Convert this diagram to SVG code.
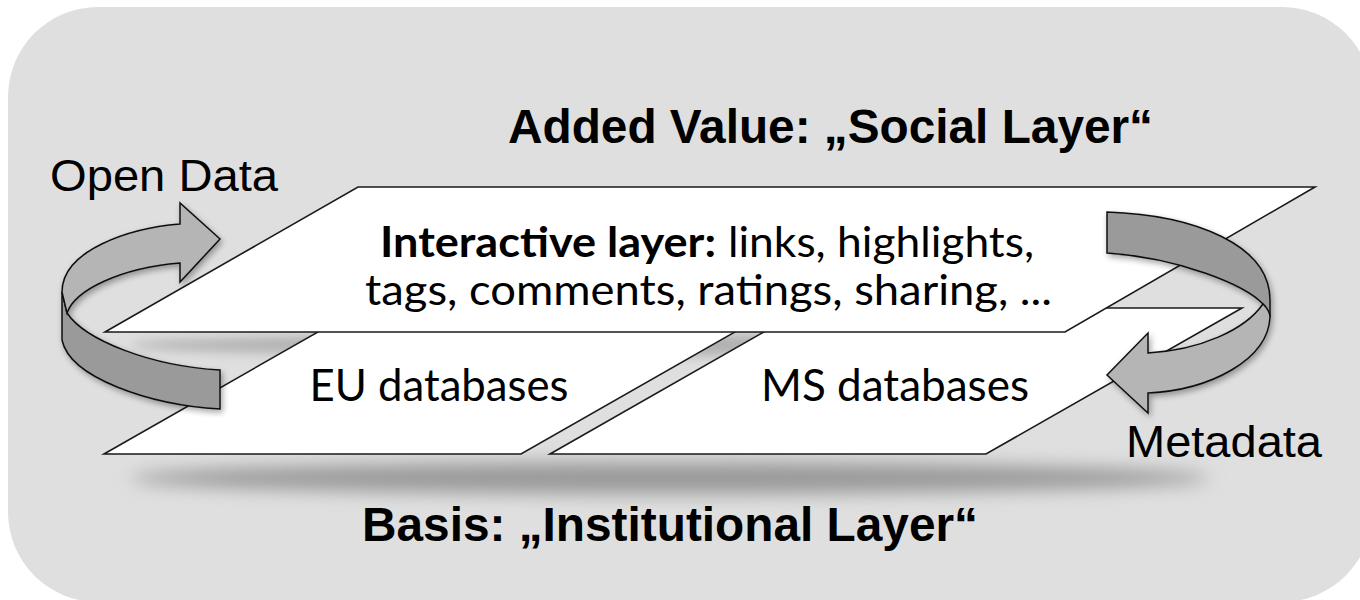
<svg xmlns="http://www.w3.org/2000/svg" width="1360" height="600" viewBox="0 0 1360 600">
<style>
.plane{fill:#ffffff;stroke:#1a1a1a;stroke-width:1.6;stroke-linejoin:miter}
.light{fill:#b5b5b5;stroke:#111;stroke-width:1.5;stroke-linejoin:miter}
.dark{fill:#9a9a9a;stroke:#111;stroke-width:1.5;stroke-linejoin:miter}
.title{font-family:"Liberation Sans",Arial,sans-serif;font-weight:bold;font-size:48px;fill:#000}
.lbl{font-family:"Liberation Sans",Arial,sans-serif;font-size:45px;fill:#000}
.cal{font-family:Lato,"Open Sans",sans-serif;font-size:44px;fill:#000}
.cal2{font-family:Lato,"Open Sans",sans-serif;font-size:42px;fill:#000}
</style>
<defs>
<filter id="blur" x="-20%" y="-100%" width="140%" height="300%"><feGaussianBlur stdDeviation="9"/></filter>
<filter id="blur2" x="-20%" y="-100%" width="140%" height="300%"><feGaussianBlur stdDeviation="6"/></filter>
<filter id="ashadow" x="-20%" y="-20%" width="140%" height="140%"><feGaussianBlur in="SourceAlpha" stdDeviation="3"/><feOffset dx="2" dy="3"/><feComponentTransfer><feFuncA type="linear" slope="0.35"/></feComponentTransfer><feMerge><feMergeNode/><feMergeNode in="SourceGraphic"/></feMerge></filter>
</defs>
<rect id="background" x="8" y="7" width="1364" height="595" rx="90" ry="90" fill="#dfdfdf"/>
<g id="shadows">
<ellipse cx="670" cy="478" rx="540" ry="16" fill="#9a9a9a" filter="url(#blur)"/>
<ellipse cx="600" cy="345" rx="470" ry="11" fill="#b0b0b0" filter="url(#blur2)"/>
</g>
<g id="eu-databases">
<polygon class="plane" points="104,454 360,308 777,308 521,454"/>
<text class="cal" x="439" y="401" text-anchor="middle" textLength="259" lengthAdjust="spacingAndGlyphs">EU databases</text>
</g>
<g id="ms-databases">
<polygon class="plane" points="550,454 806,308 1242,308 986,454"/>
<text class="cal" x="895" y="401" text-anchor="middle" textLength="268" lengthAdjust="spacingAndGlyphs">MS databases</text>
</g>
<g id="interactive-layer">
<polygon class="plane" points="105,332 358,187 1315,187 1065,332"/>
<text class="cal2" x="380" y="257" font-weight="bold" textLength="336" lengthAdjust="spacingAndGlyphs">Interactive layer:</text>
<text class="cal2" x="728" y="257" textLength="306" lengthAdjust="spacingAndGlyphs">links, highlights,</text>
<text class="cal2" x="365" y="305" textLength="687" lengthAdjust="spacingAndGlyphs">tags, comments, ratings, sharing, ...</text>
</g>
<g id="connectors">
<g id="open-data-arrow" filter="url(#ashadow)">
<path class="dark" d="M62,292 L62,340 C70,378 150,405 220,409 L220,370 C150,366 85,340 67,313 Z"/>
<path class="light" d="M62,292 C62,250 130,228 180,224 L180,203 L220,239 L180,282 L180,263 C120,268 75,290 67,313 Z"/>
</g>
<g id="metadata-arrow" filter="url(#ashadow)">
<path class="dark" d="M1107,212 C1195,215 1270,245 1270,300 L1270,317 C1268,310 1266,306 1263,304 C1245,285 1180,258 1107,253 Z"/>
<path class="light" d="M1263,304 C1267,308 1270,313 1270,317 C1268,360 1210,390 1148,393 L1148,413 L1107,375 L1148,333 L1148,353 C1200,350 1245,330 1263,304 Z"/>
</g>
</g>
<g id="labels">
<text class="lbl" x="50" y="191" textLength="228" lengthAdjust="spacingAndGlyphs">Open Data</text>
<text class="lbl" x="1126" y="457" textLength="196" lengthAdjust="spacingAndGlyphs">Metadata</text>
<text class="title" x="508" y="143" textLength="645" lengthAdjust="spacingAndGlyphs">Added Value: „Social Layer“</text>
<text class="title" x="362" y="541" textLength="616" lengthAdjust="spacingAndGlyphs">Basis: „Institutional Layer“</text>
</g>
</svg>
